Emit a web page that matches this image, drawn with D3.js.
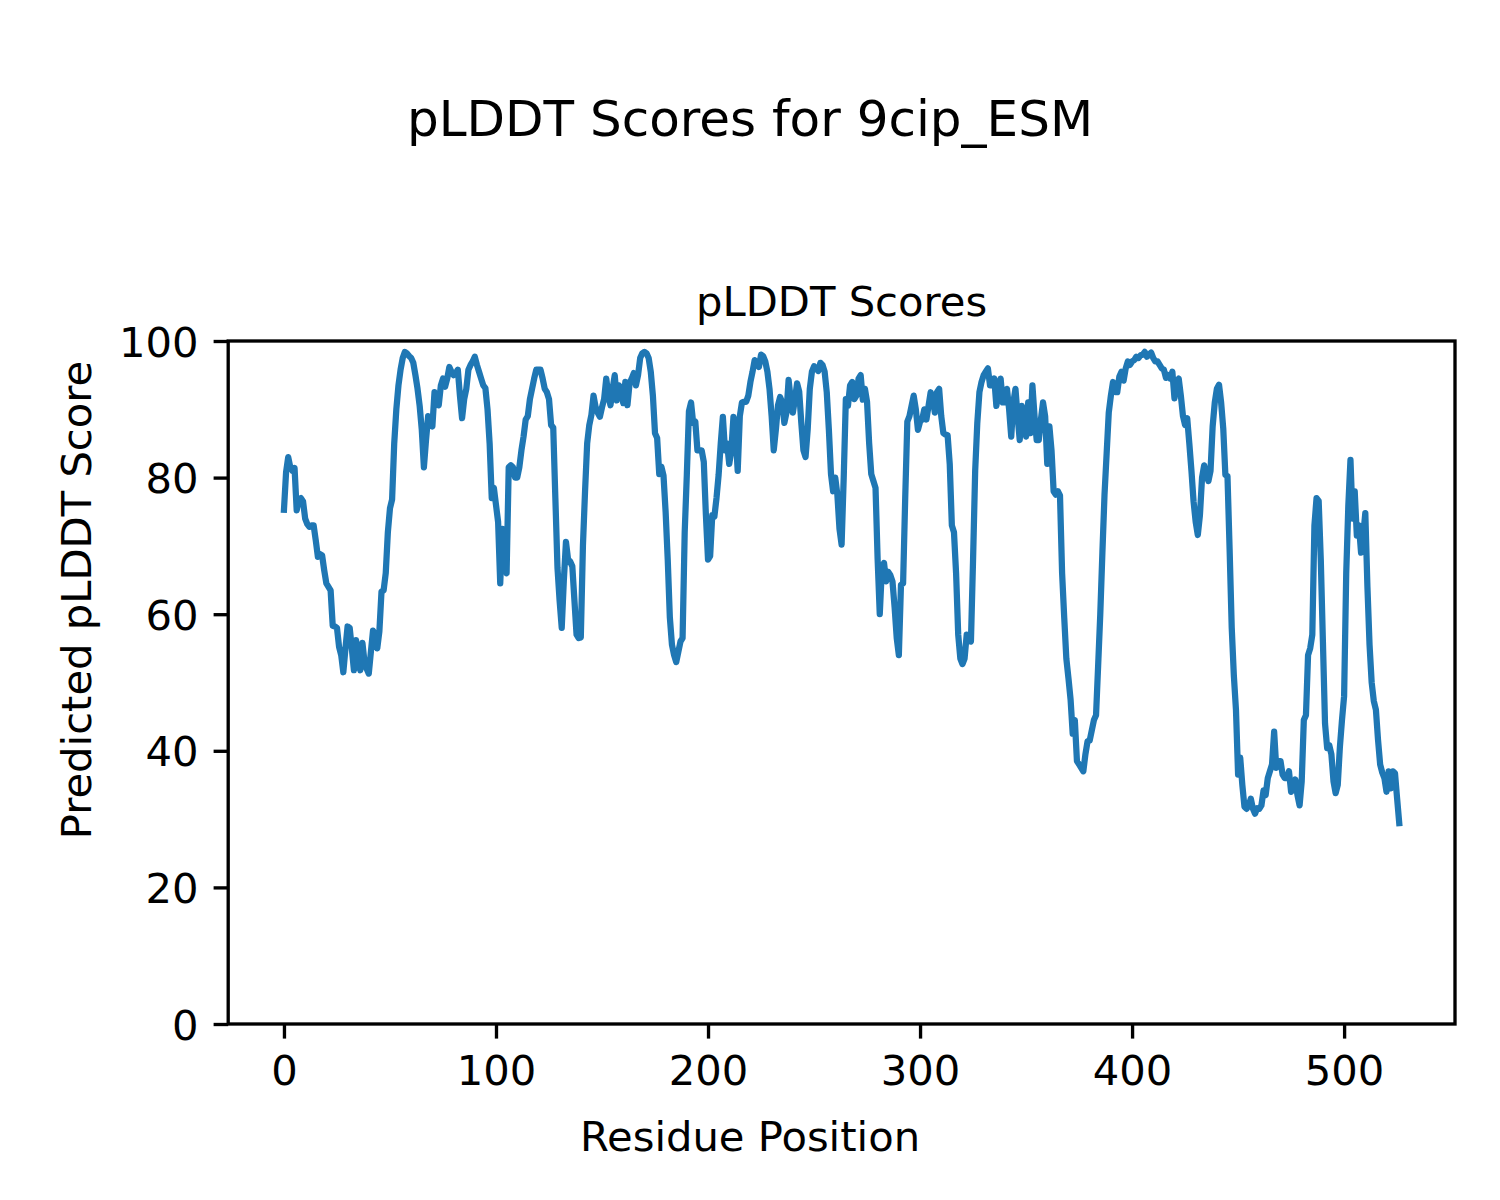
<!DOCTYPE html>
<html>
<head>
<meta charset="utf-8">
<script src="https://cdn.jsdelivr.net/npm/d3@7"></script>
<style>
  html, body { margin: 0; padding: 0; background: #ffffff; }
  svg text { font-family: "DejaVu Sans", sans-serif; fill: #000; }
</style>
</head>
<body>
<svg id="chart" width="1500" height="1200"></svg>
<script>
// ---- data ----
const figureTitle = "pLDDT Scores for 9cip_ESM";
const axesTitle = "pLDDT Scores";
const xLabel = "Residue Position";
const yLabel = "Predicted pLDDT Score";
const xTicks = [0, 100, 200, 300, 400, 500];
const yTicks = [0, 20, 40, 60, 80, 100];
// pLDDT per residue, index = residue position (0..526)
const plddt = [
  75.3, 80.8, 83, 81.5, 81, 81.4, 75.2, 76.8, 77, 76.5,
  74, 73.2, 72.8, 73, 73, 70.8, 68.4, 68.8, 68.6, 66.4,
  64.5, 64, 63.5, 58.3, 58.2, 58, 55.2, 54, 51.5, 55,
  58.2, 58, 55, 51.8, 56.2, 53.2, 51.8, 55.8, 53, 52,
  51.3, 54.5, 57.6, 57, 55, 57.5, 63.3, 63.5, 66, 72,
  75.5, 76.8, 85, 90, 93.5, 95.8, 97.5, 98.4, 98.2, 97.8,
  97.5, 96.8, 95, 93, 90.5, 87, 81.5, 85.5, 89, 88,
  87.5, 92.5, 91.5, 90.6, 93.5, 94.5, 93.3, 94.5, 96.2, 95.5,
  95, 95.3, 95.8, 92, 88.7, 91.5, 93, 95.8, 96.5, 97,
  97.7, 96.5, 95.5, 94.5, 93.5, 93.1, 90, 85, 77, 78.5,
  76, 73.5, 64.5, 72.5, 67, 66, 81.5, 81.8, 81.5, 80,
  80, 81.5, 84, 86, 88.5, 89, 91.5, 93, 94.5, 95.8,
  95.8, 95.8, 94.5, 93, 92.5, 91.5, 87.7, 87.3, 77, 66.8,
  62, 58, 65, 70.6, 68, 67.7, 67, 62, 57, 56.5,
  56.6, 70, 78, 85, 87.7, 89.2, 92, 90.3, 89.5, 88.9,
  90.3, 91.5, 94.5, 92, 90.6, 93, 95, 91.3, 93.5, 93,
  90.9, 94, 90.6, 93.8, 94.5, 95.3, 93.5, 95, 97.5, 98.2,
  98.4, 98.2, 97.5, 95.5, 92, 86.5, 85.8, 80.5, 81.6, 80.3,
  75, 68, 59.5, 55.5, 54, 53, 54.5, 56, 56.5, 72,
  80.4, 89.7, 91, 88, 88.2, 84, 84, 84, 82.3, 74.5,
  68, 68.5, 74.5, 74.3, 77, 80.4, 85, 88.9, 84, 85,
  82, 84, 88.9, 86.4, 81, 89, 91, 91.1, 91.1, 92,
  94, 95.5, 97.2, 96.8, 96.2, 98, 97.8, 97, 95.5, 93,
  89, 84, 87, 90.6, 91.8, 91, 88, 89.5, 94.3, 91.5,
  89.5, 91.5, 93.8, 92.6, 88, 84, 83, 87, 93, 95.5,
  96.3, 96, 95.6, 96.8, 96.5, 95.5, 92.5, 87, 80.5, 78,
  80, 77.5, 72.5, 70.2, 80, 91.5, 90.5, 93.5, 94, 91.5,
  92, 94.5, 95, 91.4, 93, 91.1, 85, 80.5, 79.5, 78.5,
  68, 60, 66.7, 67.5, 64.8, 66.2, 65.7, 64.8, 61, 56.5,
  54, 64.3, 64.5, 77, 88.2, 89, 90.5, 92, 90, 87,
  88.2, 88.5, 90, 88.5, 90.5, 92.5, 91.5, 89.5, 92.5, 93,
  89, 86.5, 86.3, 86.2, 82, 73, 72, 66, 57, 53.5,
  52.7, 53.5, 57, 56.5, 56, 68, 81, 88, 92.5, 94,
  95, 95.5, 96, 93.5, 93.5, 94.5, 90.5, 92.5, 94.5, 91,
  91, 93, 90, 86, 91, 93, 89, 85.5, 90.5, 88,
  86, 91, 86.5, 93.5, 89, 85.5, 85.5, 88.5, 91, 89,
  82, 87.5, 84, 78, 77.5, 78, 77.4, 66, 59.5, 53.5,
  50.6, 47.5, 42.5, 44.5, 38.5, 38, 37.5, 37, 39.5, 41.4,
  41.5, 43, 44.5, 45.2, 52.5, 60, 69, 77.5, 83.5, 89.5,
  92, 94, 92.5, 92.5, 94.8, 95.5, 94.2, 96, 97, 96.5,
  97, 97.2, 97.7, 97.5, 97.9, 98, 98.4, 97.7, 98, 98.3,
  97.5, 97, 97, 96.5, 96, 95.8, 94.6, 95, 94.5, 95.5,
  91.6, 94, 94.5, 92, 89, 87.7, 88.7, 85, 81, 76.5,
  73.5, 71.6, 74.5, 80, 81.8, 80.5, 79.5, 81, 87.5, 91,
  93, 93.6, 91, 87.2, 80.4, 80.2, 69.5, 58, 51, 46,
  36.5, 39, 35, 31.8, 31.5, 32, 33, 31.5, 30.8, 31.6,
  31.5, 32, 34.2, 33.5, 36, 37, 38, 42.8, 37.5, 38.5,
  38.5, 36.5, 36, 36, 37, 34, 34.5, 35.8, 33.5, 32,
  35.5, 44.5, 45.2, 54, 55, 57, 73, 77, 76.6, 68,
  56, 44, 40.4, 40.8, 39.5, 35.5, 33.8, 35, 40.5, 44.5,
  48, 66, 76, 82.6, 74, 78, 71.5, 73, 69, 71.5,
  74.8, 64, 55.5, 50, 47.3, 46, 41.6, 38, 36.8, 36,
  34, 37, 34.5, 37, 36.7, 33, 29.4
];

// ---- layout ----
const W = 1500, H = 1200;
const plot = { left: 228.2, right: 1455, top: 341, bottom: 1024 };
const lineColor = "#1f77b4";
const tickLen = 14.6, tickPad = 14.6, spineW = 3.33;
const fsTick = 41.7, fsLabel = 41.7, fsAxTitle = 41.7, fsFigTitle = 50;

const svg = d3.select("#chart");
svg.append("rect").attr("width", W).attr("height", H).attr("fill", "#fff");

const n = plddt.length;
const margin = (n - 1) * 0.05;
const x = d3.scaleLinear().domain([-margin, (n - 1) + margin]).range([plot.left, plot.right]);
const y = d3.scaleLinear().domain([0, 100]).range([plot.bottom, plot.top]);

// data line
const line = d3.line().x((d, i) => x(i)).y(d => y(d));
svg.append("path")
  .datum(plddt)
  .attr("d", line)
  .attr("fill", "none")
  .attr("stroke", lineColor)
  .attr("stroke-width", 6.25)
  .attr("stroke-linejoin", "round")
  .attr("stroke-linecap", "square");

// axes
const xAxis = d3.axisBottom(x).tickValues(xTicks).tickSize(tickLen).tickPadding(tickPad).tickSizeOuter(0);
const yAxis = d3.axisLeft(y).tickValues(yTicks).tickSize(tickLen).tickPadding(tickPad).tickSizeOuter(0);

const gx = svg.append("g").attr("transform", `translate(0,${plot.bottom})`).call(xAxis);
const gy = svg.append("g").attr("transform", `translate(${plot.left},0)`).call(yAxis);
[gx, gy].forEach(g => {
  g.select(".domain").remove();
  g.selectAll(".tick line").attr("stroke", "#000").attr("stroke-width", spineW);
  g.selectAll(".tick text").attr("font-size", fsTick).attr("font-family", "DejaVu Sans").attr("fill", "#000");
});
gx.selectAll(".tick text").attr("dy", null).attr("y", null)
  .attr("transform", `translate(0,${1085 - plot.bottom})`).attr("dominant-baseline", "auto");
gy.selectAll(".tick text").attr("dy", "0.36em").attr("x", -(tickLen + tickPad + 0.5));

// frame
svg.append("rect")
  .attr("x", plot.left).attr("y", plot.top)
  .attr("width", plot.right - plot.left).attr("height", plot.bottom - plot.top)
  .attr("fill", "none").attr("stroke", "#000").attr("stroke-width", spineW);

// titles / labels
svg.append("text").attr("x", 750).attr("y", 136).attr("text-anchor", "middle")
  .attr("font-size", fsFigTitle).text(figureTitle);
svg.append("text").attr("x", (plot.left + plot.right) / 2).attr("y", 316).attr("text-anchor", "middle")
  .attr("font-size", fsAxTitle).text(axesTitle);
svg.append("text").attr("x", 750).attr("y", 1151).attr("text-anchor", "middle")
  .attr("font-size", fsLabel).text(xLabel);
svg.append("text").attr("transform", "translate(91,600) rotate(-90)").attr("text-anchor", "middle")
  .attr("font-size", fsLabel).text(yLabel);
</script>
</body>
</html>
